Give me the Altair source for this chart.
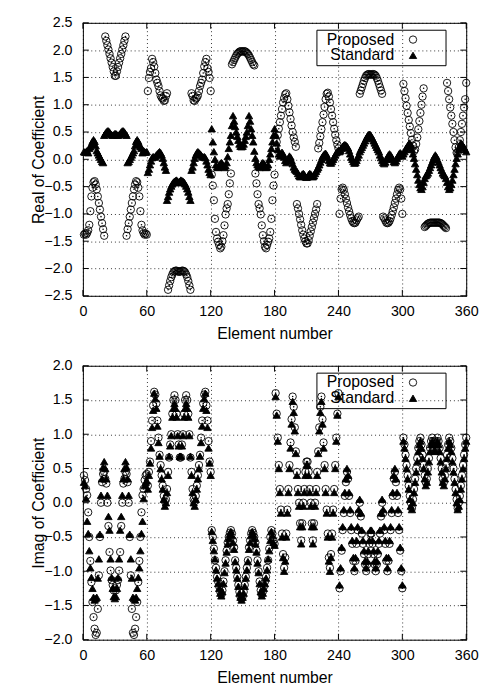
import altair as alt
import pandas as pd

elements = list(range(1, 361))
x_ticks = [0, 60, 120, 180, 240, 300, 360]
real_ticks = [-2.5, -2.0, -1.5, -1.0, -0.5, 0.0, 0.5, 1.0, 1.5, 2.0, 2.5]
imag_ticks = [-2.0, -1.5, -1.0, -0.5, 0.0, 0.5, 1.0, 1.5, 2.0]
series_names = ["Proposed", "Standard"]

# ---------------- Real part, Proposed ----------------
real_prop_s1 = [-1.38, -1.36, -1.38, -1.35, -1.30, -1.20, -0.95, -0.68, -0.52, -0.42, -0.40, -0.46, -0.55, -0.68, -0.80, -0.92, -1.05, -1.17, -1.28, -1.40,
                2.25, 2.17, 2.09, 2.01, 1.93, 1.85, 1.77, 1.69, 1.61, 1.53, 1.53, 1.61, 1.69, 1.77, 1.85, 1.93, 2.01, 2.09, 2.17, 2.25,
                -1.40, -1.28, -1.17, -1.05, -0.92, -0.80, -0.68, -0.55, -0.46, -0.40, -0.42, -0.52, -0.68, -0.95, -1.20, -1.30, -1.35, -1.38, -1.36, -1.38]
real_prop_s2 = [1.25, 1.49, 1.60, 1.67, 1.84, 1.78, 1.70, 1.58, 1.46, 1.40, 1.34, 1.25, 1.17, 1.13, 1.11, 1.07, 1.08, 1.16, 1.21,
                -2.39, -2.31, -2.23, -2.16, -2.11, -2.07, -2.05, -2.04, -2.04, -2.05, -2.06, -2.06, -2.05, -2.04, -2.04, -2.05, -2.07, -2.11, -2.16, -2.23, -2.31, -2.39,
                1.21, 1.16, 1.08, 1.07, 1.11, 1.13, 1.17, 1.25, 1.34, 1.40, 1.46, 1.58, 1.70, 1.78, 1.84, 1.67, 1.60, 1.49, 1.25]
real_prop_s3 = [-0.28, -0.48, -0.75, -1.09, -1.33, -1.45, -1.51, -1.57, -1.63, -1.60, -1.50, -1.39, -1.21, -1.01, -0.90, -0.82, -0.64, -0.44, -0.26,
                1.74, 1.78, 1.82, 1.86, 1.90, 1.93, 1.95, 1.97, 1.98, 1.98, 1.97, 1.98, 1.98, 1.97, 1.95, 1.93, 1.90, 1.86, 1.82, 1.78, 1.74, 1.72,
                -0.26, -0.44, -0.64, -0.82, -0.90, -1.01, -1.21, -1.39, -1.50, -1.60, -1.63, -1.57, -1.51, -1.45, -1.33, -1.09, -0.75, -0.48, -0.28]
real_prop_s4 = [0.20, 0.32, 0.44, 0.56, 0.68, 0.80, 0.92, 1.04, 1.12, 1.19, 1.21, 1.10, 0.98, 0.86, 0.74, 0.62, 0.50, 0.40, 0.32, 0.23,
                -0.82, -0.90, -1.00, -1.10, -1.20, -1.30, -1.38, -1.45, -1.50, -1.54, -1.54, -1.48, -1.40, -1.32, -1.24, -1.16, -1.08, -1.00, -0.92, -0.82,
                0.20, 0.30, 0.42, 0.55, 0.68, 0.82, 0.96, 1.10, 1.20, 1.22, 1.15, 1.04, 0.92, 0.80, 0.68, 0.56, 0.45, 0.35, 0.27, 0.20]
real_prop_s5 = [-1.00, -0.72, -0.55, -0.52, -0.56, -0.64, -0.72, -0.80, -0.88, -0.95, -1.02, -1.08, -1.13, -1.16, -1.17, -1.16, -1.12, -1.08, -1.05,
                1.20, 1.26, 1.32, 1.38, 1.44, 1.49, 1.53, 1.55, 1.56, 1.56, 1.55, 1.55, 1.56, 1.56, 1.55, 1.53, 1.49, 1.44, 1.38, 1.32, 1.26, 1.20,
                -1.05, -1.08, -1.12, -1.16, -1.17, -1.16, -1.13, -1.08, -1.02, -0.95, -0.88, -0.80, -0.72, -0.64, -0.56, -0.52, -0.55, -0.72, -1.00]
real_prop_s6 = [1.38, 1.25, 1.12, 0.98, 0.85, 0.72, 0.60, 0.48, 0.36, 0.25, 0.15, 0.18, 0.28, 0.40, 0.55, 0.70, 0.85, 1.00, 1.15, 1.30,
                -1.24, -1.22, -1.20, -1.18, -1.17, -1.16, -1.16, -1.16, -1.16, -1.16, -1.16, -1.16, -1.16, -1.16, -1.16, -1.17, -1.18, -1.20, -1.22, -1.24, -1.26,
                1.40, 1.25, 1.10, 0.95, 0.80, 0.65, 0.50, 0.35, 0.22, 0.12, 0.12, 0.22, 0.35, 0.50, 0.65, 0.80, 0.95, 1.10, 1.40]

# ---------------- Real part, Standard ----------------
real_std_s1 = [0.14, 0.13, 0.14, 0.16, 0.12, 0.20, 0.23, 0.28, 0.33, 0.36, 0.33, 0.25, 0.16, 0.12, 0.08, 0.04, 0.00, -0.04, -0.06,
               0.44, 0.47, 0.50, 0.52, 0.52, 0.50, 0.47, 0.45, 0.44, 0.45, 0.47, 0.47, 0.45, 0.44, 0.45, 0.47, 0.50, 0.52, 0.52, 0.50, 0.47, 0.44,
               -0.06, -0.04, 0.00, 0.04, 0.08, 0.12, 0.16, 0.25, 0.33, 0.36, 0.33, 0.28, 0.23, 0.20, 0.12, 0.16, 0.14, 0.13, 0.14]
real_std_s2 = [-0.24, -0.18, -0.10, -0.03, 0.03, 0.05, 0.04, 0.05, 0.08, 0.10, 0.12, 0.14, 0.12, 0.08, 0.02, -0.06, -0.14, -0.20,
               -0.75, -0.68, -0.60, -0.54, -0.49, -0.45, -0.42, -0.40, -0.39, -0.38, -0.40, -0.43, -0.40, -0.38, -0.39, -0.40, -0.42, -0.45, -0.49, -0.54, -0.60, -0.68, -0.75,
               -0.20, -0.14, -0.06, 0.02, 0.08, 0.12, 0.14, 0.12, 0.10, 0.08, 0.05, 0.04, 0.05, 0.03, -0.03, -0.10, -0.18, -0.24, -0.28]
real_std_s3 = [0.56, 0.32, 0.14, 0.00, -0.10, -0.14, -0.15, -0.12, -0.08, -0.06, -0.08, -0.12, -0.15, -0.12, -0.06, 0.05, 0.20, 0.32,
               0.44, 0.62, 0.80, 0.70, 0.60, 0.50, 0.42, 0.35, 0.28, 0.24, 0.23, 0.24, 0.28, 0.35, 0.42, 0.50, 0.62, 0.80, 0.70, 0.56, 0.44, 0.32,
               0.15, 0.02, -0.06, -0.10, -0.13, -0.15, -0.12, -0.08, -0.06, -0.08, -0.12, -0.15, -0.14, -0.10, 0.00, 0.10, 0.20, 0.32, 0.44, 0.56]
real_std_s4 = [0.45, 0.30, 0.18, 0.10, 0.06, 0.10, 0.13, 0.10, 0.04, -0.02, -0.06, -0.03, 0.02, 0.06, 0.04, -0.02, -0.08, -0.14, -0.18, -0.20,
               -0.22, -0.26, -0.30, -0.32, -0.30, -0.27, -0.26, -0.28, -0.32, -0.33, -0.32, -0.28, -0.26, -0.27, -0.30, -0.32, -0.30, -0.26, -0.22, -0.18,
               -0.15, -0.10, -0.05, 0.00, 0.05, 0.08, 0.10, 0.11, 0.08, 0.03, -0.02, -0.06, -0.07, -0.04, 0.00, 0.04, 0.08, 0.12, 0.14, 0.16]
real_std_s5 = [0.14, 0.16, 0.20, 0.24, 0.26, 0.27, 0.26, 0.24, 0.21, 0.16, 0.10, 0.04, 0.00, -0.04, -0.07, -0.06, -0.02, 0.03, 0.08, 0.14,
               0.18, 0.22, 0.26, 0.30, 0.34, 0.38, 0.42, 0.45, 0.46, 0.45, 0.42, 0.38, 0.34, 0.30, 0.26, 0.22, 0.18, 0.14, 0.08, 0.03,
               -0.02, -0.06, -0.08, -0.05, 0.00, 0.04, 0.08, 0.10, 0.08, 0.04, 0.00, -0.04, -0.06, -0.03, 0.02, 0.06, 0.10, 0.12, 0.10, 0.06]
real_std_s6 = [0.10, 0.14, 0.18, 0.22, 0.25, 0.28, 0.30, 0.25, 0.18, 0.10, 0.02, -0.08, -0.18, -0.28, -0.38, -0.46, -0.52, -0.55, -0.50, -0.42,
               -0.35, -0.30, -0.28, -0.25, -0.20, -0.15, -0.10, -0.05, 0.00, 0.05, 0.08, 0.05, 0.00, -0.05, -0.10, -0.15, -0.20, -0.25, -0.28, -0.30,
               -0.35, -0.42, -0.50, -0.55, -0.52, -0.46, -0.38, -0.28, -0.18, -0.08, 0.02, 0.10, 0.18, 0.25, 0.30, 0.28, 0.25, 0.22, 0.18, 0.14]

# ---------------- Imag part, Proposed ----------------
imag_prop_s1 = [0.40, 0.33, 0.20, 0.11, -0.14, -0.50, -0.85, -1.16, -1.45, -1.67, -1.84, -1.93,
                -1.90, -1.55, -1.06, -0.50, 0.00, 0.30, 0.42, 0.45, 0.35,
                0.28, 0.00, -0.34, -0.72, -0.99, -1.13, -1.20, -1.28, -1.25,
                -1.28, -1.20, -1.13, -0.99, -0.72, -0.34, 0.00, 0.28, 0.35,
                0.45, 0.42, 0.30, 0.00, -0.50, -1.06, -1.55, -1.90, -1.93,
                -1.84, -1.67, -1.45, -1.16, -0.85, -0.50, -0.14, 0.11, 0.20, 0.33, 0.40, 0.42]
imag_prop_s2 = [0.25, 0.45, 0.60, 0.90, 1.20, 1.42, 1.62, 1.58, 1.45, 1.20, 0.95, 0.70, 0.55, 0.40, 0.25, 0.10, 0.02, 0.05, 0.20, 0.45,
                0.66, 0.85, 1.00, 1.30, 1.50, 1.57, 1.50, 1.30, 1.00, 0.85, 0.66, 0.66, 0.85, 1.00, 1.30, 1.50, 1.57, 1.50, 1.30, 1.00,
                0.66, 0.45, 0.20, 0.05, 0.02, 0.10, 0.25, 0.40, 0.55, 0.70, 0.95, 1.20, 1.45, 1.58, 1.62, 1.42, 1.20, 0.90, 0.60, 0.45]
imag_prop_s3 = [-0.40, -0.50, -0.67, -0.84, -0.95, -1.08, -1.15, -1.22, -1.30, -1.34, -1.28, -1.15, -1.00, -0.84, -0.70, -0.58, -0.50, -0.44, -0.40, -0.45,
                -0.55, -0.65, -0.84, -0.95, -1.08, -1.20, -1.30, -1.37, -1.40, -1.37, -1.30, -1.20, -1.08, -0.95, -0.84, -0.65, -0.55, -0.45, -0.40, -0.44,
                -0.50, -0.58, -0.70, -0.84, -1.00, -1.15, -1.28, -1.34, -1.30, -1.22, -1.15, -1.08, -0.95, -0.84, -0.67, -0.50, -0.40, -0.45, -0.55, -0.60]
imag_prop_s4 = [1.60, 1.30, 0.95, 0.55, 0.20, -0.10, -0.45, -0.75, -0.95, -0.80, -0.45, -0.10, 0.20, 0.55, 0.88, 1.22, 1.55, 1.40, 1.10, 0.75,
                0.45, 0.20, 0.00, -0.30, -0.55, -0.30, 0.00, 0.20, 0.45, 0.60, 0.60, 0.45, 0.20, 0.00, -0.30, -0.55, -0.30, 0.00, 0.20, 0.45,
                0.75, 1.10, 1.40, 1.55, 1.22, 0.88, 0.55, 0.20, -0.10, -0.45, -0.80, -0.95, -0.75, -0.45, -0.10, 0.20, 0.55, 0.95, 1.30, 1.60]
imag_prop_s5 = [-1.25, -1.00, -0.70, -0.40, -0.15, 0.10, 0.30, 0.45, 0.35, 0.10, -0.15, -0.40, -0.60, -0.85, -1.00, -0.85, -0.60, -0.40, -0.15, 0.00,
                -0.20, -0.45, -0.60, -0.75, -0.90, -1.00, -0.90, -0.75, -0.60, -0.45, -0.45, -0.60, -0.75, -0.90, -1.00, -0.90, -0.75, -0.60, -0.45, -0.20,
                0.00, -0.15, -0.40, -0.60, -0.85, -1.00, -0.85, -0.60, -0.40, -0.15, 0.10, 0.35, 0.45, 0.30, 0.10, -0.15, -0.40, -0.70, -1.00, -1.25]
imag_prop_s6 = [0.95, 0.85, 0.70, 0.55, 0.40, 0.25, 0.10, 0.00, -0.08, 0.05, 0.20, 0.35, 0.50, 0.65, 0.80, 0.90, 0.95, 0.85, 0.70, 0.55,
                0.40, 0.30, 0.35, 0.50, 0.65, 0.80, 0.90, 0.95, 0.90, 0.80, 0.80, 0.90, 0.95, 0.90, 0.80, 0.65, 0.50, 0.35, 0.30, 0.40,
                0.55, 0.70, 0.85, 0.95, 0.90, 0.80, 0.65, 0.50, 0.35, 0.20, 0.05, -0.08, 0.00, 0.10, 0.25, 0.40, 0.55, 0.70, 0.85, 0.95]

# ---------------- Imag part, Standard ----------------
imag_std_s1 = [0.30, 0.25, 0.06, -0.27, -0.45, -0.70, -0.95, -1.09, -1.25, -1.38, -1.42, -1.40,
               -1.38, -1.10, -0.82, -0.46, 0.11, 0.35, 0.52, 0.60, 0.50,
               0.35, 0.11, -0.20, -0.40, -0.82, -1.09, -1.25, -1.37, -1.40,
               -1.37, -1.25, -1.09, -0.82, -0.40, -0.20, 0.11, 0.35, 0.50,
               0.60, 0.52, 0.35, 0.11, -0.46, -0.82, -1.10, -1.38, -1.40,
               -1.42, -1.38, -1.25, -1.09, -0.95, -0.70, -0.45, -0.27, 0.06, 0.25, 0.30, 0.32]
imag_std_s2 = [0.20, 0.40, 0.58, 0.80, 1.10, 1.35, 1.60, 1.52, 1.38, 1.12, 0.88, 0.68, 0.50, 0.35, 0.20, 0.05, -0.05, 0.00, 0.15, 0.40,
               0.68, 0.83, 0.98, 1.25, 1.38, 1.45, 1.38, 1.25, 0.98, 0.83, 0.68, 0.68, 0.83, 0.98, 1.25, 1.38, 1.45, 1.38, 1.25, 0.98,
               0.68, 0.40, 0.15, 0.00, -0.05, 0.05, 0.20, 0.35, 0.50, 0.68, 0.88, 1.12, 1.38, 1.52, 1.60, 1.35, 1.10, 0.80, 0.58, 0.40]
imag_std_s3 = [-0.42, -0.55, -0.70, -0.82, -0.98, -1.10, -1.18, -1.25, -1.32, -1.36, -1.30, -1.18, -1.02, -0.88, -0.72, -0.60, -0.52, -0.46, -0.42, -0.48,
               -0.58, -0.68, -0.86, -0.98, -1.10, -1.22, -1.32, -1.38, -1.42, -1.38, -1.32, -1.22, -1.10, -0.98, -0.86, -0.68, -0.58, -0.48, -0.42, -0.46,
               -0.52, -0.60, -0.72, -0.88, -1.02, -1.18, -1.30, -1.36, -1.32, -1.25, -1.18, -1.10, -0.98, -0.82, -0.70, -0.55, -0.42, -0.48, -0.58, -0.62]
imag_std_s4 = [1.55, 1.28, 0.90, 0.50, 0.15, -0.15, -0.50, -0.80, -1.00, -0.85, -0.50, -0.15, 0.15, 0.50, 0.80, 1.15, 1.48, 1.32, 1.05, 0.72,
               0.40, 0.15, -0.05, -0.35, -0.60, -0.35, -0.05, 0.15, 0.40, 0.55, 0.55, 0.40, 0.15, -0.05, -0.35, -0.60, -0.35, -0.05, 0.15, 0.40,
               0.72, 1.05, 1.32, 1.48, 1.15, 0.80, 0.50, 0.15, -0.15, -0.50, -0.85, -1.00, -0.80, -0.50, -0.15, 0.15, 0.50, 0.90, 1.28, 1.55]
imag_std_s5 = [-1.20, -0.95, -0.65, -0.35, -0.10, 0.15, 0.35, 0.50, 0.40, 0.15, -0.10, -0.35, -0.55, -0.80, -0.95, -0.80, -0.55, -0.35, -0.10, 0.05,
               -0.15, -0.40, -0.55, -0.70, -0.85, -0.95, -0.85, -0.70, -0.55, -0.40, -0.40, -0.55, -0.70, -0.85, -0.95, -0.85, -0.70, -0.55, -0.40, -0.15,
               0.05, -0.10, -0.35, -0.55, -0.80, -0.95, -0.80, -0.55, -0.35, -0.10, 0.15, 0.40, 0.50, 0.35, 0.15, -0.10, -0.35, -0.65, -0.95, -1.20]
imag_std_s6 = [0.90, 0.80, 0.65, 0.50, 0.35, 0.20, 0.05, -0.05, -0.10, 0.00, 0.15, 0.30, 0.45, 0.60, 0.75, 0.85, 0.90, 0.80, 0.65, 0.50,
               0.35, 0.25, 0.30, 0.45, 0.60, 0.75, 0.85, 0.90, 0.85, 0.75, 0.75, 0.85, 0.90, 0.85, 0.75, 0.60, 0.45, 0.30, 0.25, 0.35,
               0.50, 0.65, 0.80, 0.90, 0.85, 0.75, 0.60, 0.45, 0.30, 0.15, 0.00, -0.10, -0.05, 0.05, 0.20, 0.35, 0.50, 0.65, 0.80, 0.90]

real_proposed = real_prop_s1 + real_prop_s2 + real_prop_s3 + real_prop_s4 + real_prop_s5 + real_prop_s6
real_standard = real_std_s1 + real_std_s2 + real_std_s3 + real_std_s4 + real_std_s5 + real_std_s6
imag_proposed = imag_prop_s1 + imag_prop_s2 + imag_prop_s3 + imag_prop_s4 + imag_prop_s5 + imag_prop_s6
imag_standard = imag_std_s1 + imag_std_s2 + imag_std_s3 + imag_std_s4 + imag_std_s5 + imag_std_s6

FONT = "Liberation Sans"
PLOT_W = 389
TICK_LEN = 6


def make_frame(prop, std):
    n1, n2 = len(prop), len(std)
    return pd.DataFrame({
        "Element": elements[:n1] + elements[:n2],
        "Value": prop + std,
        "Series": [series_names[0]] * n1 + [series_names[1]] * n2,
    })


def legend_spec():
    return alt.Legend(title="\u00a0", titleOrient="right", titlePadding=25, titleFontSize=2,
                      orient="none", legendX=237, legendY=7,
                      labelAlign="right", labelOffset={"expr": "-27"}, symbolOffset=88,
                      symbolStrokeColor="black", symbolStrokeWidth=0.9)


def panel(prop, std, ytitle, domain, ticks, height):
    df = make_frame(prop, std)
    xs = alt.Scale(domain=[0, 360], nice=False, zero=False)
    ys = alt.Scale(domain=domain, nice=False, zero=False)
    x_axis = alt.Axis(values=x_ticks, title="Element number", format="d")
    y_axis = alt.Axis(values=ticks, format=".1f", title=ytitle)
    x = alt.X("Element:Q", scale=xs, axis=x_axis)
    y = alt.Y("Value:Q", scale=ys, axis=y_axis)
    pts = alt.Chart(df).mark_point(filled=False, size=56, strokeWidth=0.9, opacity=1).encode(
        x=x, y=y,
        shape=alt.Shape("Series:N", scale=alt.Scale(domain=series_names, range=["circle", "triangle-up"]),
                        legend=legend_spec()),
        fill=alt.Fill("Series:N", scale=alt.Scale(domain=series_names, range=["transparent", "black"]),
                      legend=legend_spec()),
        stroke=alt.Stroke("Series:N", scale=alt.Scale(domain=series_names, range=["black", "black"]),
                          legend=legend_spec()),
    )
    dots = alt.Chart(df).transform_filter(alt.datum.Series == "Proposed").mark_circle(
        size=2.5, color="black", opacity=1).encode(x=x, y=y)

    # inward tick marks on all four borders (gnuplot style)
    xt = pd.DataFrame({"Element": x_ticks})
    yt = pd.DataFrame({"Value": ticks})
    xb = alt.Chart(xt).mark_rule(color="black", strokeWidth=1).encode(
        x=x, y=alt.value(height), y2=alt.value(height - TICK_LEN))
    xtop = alt.Chart(xt).mark_rule(color="black", strokeWidth=1).encode(
        x=x, y=alt.value(0), y2=alt.value(TICK_LEN))
    yl = alt.Chart(yt).mark_rule(color="black", strokeWidth=1).encode(
        y=y, x=alt.value(0), x2=alt.value(TICK_LEN))
    yr = alt.Chart(yt).mark_rule(color="black", strokeWidth=1).encode(
        y=y, x=alt.value(PLOT_W - TICK_LEN), x2=alt.value(PLOT_W))
    return alt.layer(pts, dots, xb, xtop, yl, yr).properties(width=PLOT_W, height=height)


top = panel(real_proposed, real_standard, "Real of Coefficient", [-2.5, 2.5], real_ticks, 277)
bottom = panel(imag_proposed, imag_standard, "Imag of Coefficient", [-2.0, 2.0], imag_ticks, 278)

chart = alt.vconcat(top, bottom, spacing=15).resolve_scale(
    shape="independent", fill="independent", stroke="independent", y="independent"
).resolve_legend(shape="independent", fill="independent", stroke="independent").properties(
    padding={"left": 22, "top": 1, "right": 2, "bottom": 0}
).configure_view(
    stroke="black", strokeWidth=1
).configure_axis(
    labelFont=FONT, titleFont=FONT, labelFontSize=14.5, titleFontSize=16,
    titleFontWeight="normal", labelColor="black", titleColor="black",
    grid=True, gridColor="black", gridDash=[1, 3], gridWidth=0.8, gridOpacity=1,
    ticks=False, tickSize=0, domain=False, labelOverlap=False,
).configure_axisY(
    labelPadding=11, minExtent=36, maxExtent=36, titlePadding=1,
).configure_axisX(
    labelPadding=9, titlePadding=8, labelFlush=False,
).configure_legend(
    labelFont=FONT, labelFontSize=16, labelColor="black", strokeColor="black",
    strokeWidth=1, padding=2, rowPadding=0, symbolSize=56, symbolStrokeWidth=0.9,
    symbolStrokeColor="black", cornerRadius=0,
)

chart.save("out.html", embed_options={"renderer": "svg", "actions": False})
